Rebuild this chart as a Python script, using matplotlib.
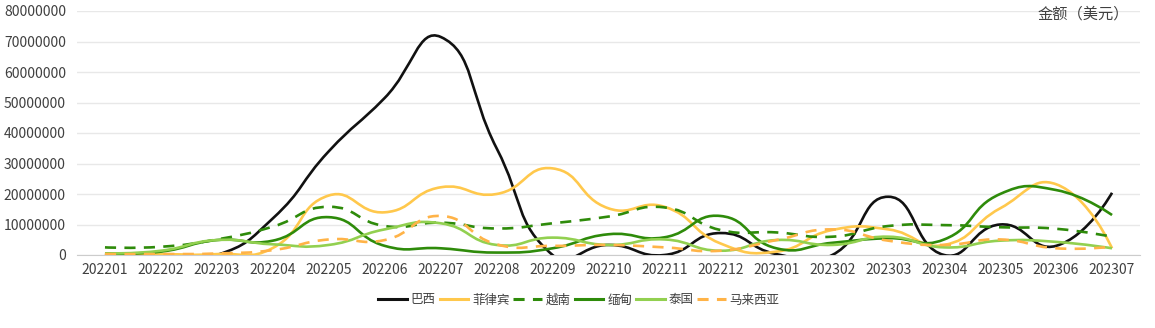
import matplotlib
matplotlib.use("Agg")
import matplotlib.pyplot as plt
from matplotlib.path import Path
from matplotlib.patches import PathPatch
from matplotlib.lines import Line2D
import numpy as np

# -----------------------------
# Data (USD)
# -----------------------------
months = ["202201", "202202", "202203", "202204", "202205", "202206", "202207",
          "202208", "202209", "202210", "202211", "202212", "202301", "202302",
          "202303", "202304", "202305", "202306", "202307"]

brazil = [0, 0, 0, 12000000, 34000000, 51500000, 71500000,
          35000000, 0, 3300000, 0, 7200000, 300000, 0,
          19100000, 0, 10000000, 3000000, 20400000]
philippines = [500000, 300000, 300000, 2300000, 19500000, 14000000, 22200000,
               20000000, 28400000, 15300000, 15800000, 3800000, 1100000, 8200000,
               8400000, 3300000, 15300000, 23200000, 2200000]
vietnam = [2500000, 2700000, 5100000, 9300000, 15800000, 9500000, 10600000,
           8700000, 10400000, 12600000, 15600000, 8200000, 7400000, 6000000,
           9500000, 9800000, 9100000, 8600000, 6000000]
myanmar = [500000, 1100000, 4900000, 4700000, 12400000, 3000000, 2200000,
           800000, 2200000, 6800000, 5800000, 12800000, 2200000, 4000000,
           5500000, 5100000, 20000000, 21300000, 13100000]
thailand = [500000, 1400000, 4900000, 3500000, 3300000, 8400000, 10400000,
            3300000, 5700000, 3300000, 5100000, 1400000, 4900000, 3300000,
            6000000, 2500000, 4700000, 4300000, 2200000]
malaysia = [300000, 300000, 500000, 1600000, 5100000, 4900000, 12800000,
            3500000, 3000000, 3300000, 2500000, 1400000, 4900000, 8400000,
            4700000, 3300000, 5100000, 2200000, 2700000]

names = ["巴西", "菲律宾", "越南", "缅甸", "泰国", "马来西亚"]
colors = ["#111111", "#FFC84C", "#2E8B0A", "#2E8B0A", "#92D050", "#FFB347"]
dashed = [False, False, True, False, False, True]
series = [brazil, philippines, vietnam, myanmar, thailand, malaysia]

plt.rcParams["font.family"] = ["Noto Sans CJK SC", "DejaVu Sans"]
plt.rcParams["lines.scale_dashes"] = False

W, H = 1155, 328
fig = plt.figure(figsize=(W / 100, H / 100), dpi=100)
ax = fig.add_axes([77 / W, 1 - 255 / H, (1140 - 77) / W, (255 - 11) / H])

x = np.arange(len(months))
ax.set_xlim(-0.5, len(months) - 0.5)
ax.set_ylim(0, 80000000)
ax.set_yticks(np.arange(0, 80000001, 10000000))
ax.set_yticklabels([str(v) for v in range(0, 80000001, 10000000)])
ax.set_xticks(x)
ax.set_xticklabels(months)
ax.tick_params(axis="both", length=0, labelsize=10, colors="#404040")
ax.tick_params(axis="y", pad=8)
ax.tick_params(axis="x", pad=6)
ax.grid(axis="y", color="#E8E8E8", linewidth=1)
ax.set_axisbelow(True)
for s in ["top", "right", "left"]:
    ax.spines[s].set_visible(False)
ax.spines["bottom"].set_color("#CCCCCC")


def smooth_path(xs, ys, smooth=0.5):
    # echarts-style smoothing computed in pixel space
    pts = ax.transData.transform(np.column_stack([xs, ys]))
    n = len(pts)
    cps = []
    for i in range(n):
        if i == 0 or i == n - 1:
            cps.append((pts[i], pts[i]))
            continue
        p0, p, p1 = pts[i - 1], pts[i], pts[i + 1]
        v = p1 - p0
        l0 = np.hypot(*(p - p0))
        l1 = np.hypot(*(p1 - p))
        r = l1 / (l0 + l1) if (l0 + l1) > 0 else 0.5
        cps.append((p - v * smooth * (1 - r), p + v * smooth * r))
    verts = [pts[0]]
    codes = [Path.MOVETO]
    for i in range(n - 1):
        verts += [cps[i][1], cps[i + 1][0], pts[i + 1]]
        codes += [Path.CURVE4] * 3
    verts = ax.transData.inverted().transform(np.array(verts))
    return Path(verts, codes)


for ys, name, c, d in zip(series, names, colors, dashed):
    patch = PathPatch(smooth_path(x, ys), facecolor="none", edgecolor=c,
                      linewidth=1.9, zorder=3, capstyle="butt")
    if d:
        patch.set_linestyle((0, (8, 6)))
    ax.add_patch(patch)

fig.text(1129 / W, 1 - 14 / H, "金额（美元）", ha="right", va="center",
         fontsize=11, color="#404040")

handles = [Line2D([0], [0], color=c, linewidth=2.2,
                  linestyle=(0, (8, 6)) if d else "-")
           for c, d in zip(colors, dashed)]
fig.legend(handles, names, loc="center", bbox_to_anchor=(579 / W, 1 - 300 / H),
           ncol=6, frameon=False, fontsize=9, handlelength=2.3,
           handletextpad=0.3, columnspacing=0.3, labelcolor="#404040")

fig.savefig("out.png", dpi=100)
